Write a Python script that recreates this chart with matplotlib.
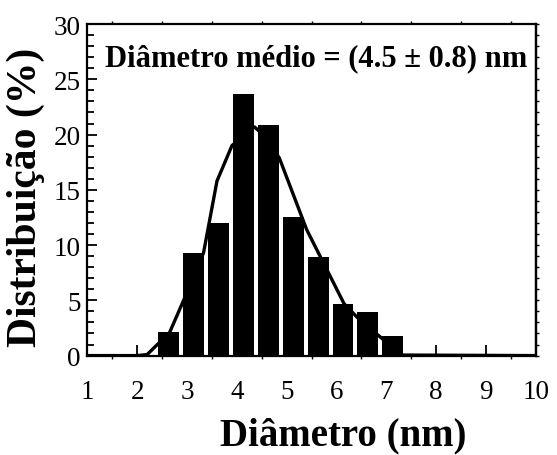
import matplotlib
matplotlib.use("Agg")
import matplotlib.pyplot as plt
from matplotlib.ticker import MultipleLocator

# histogram (bin centres in nm, percentage)
bin_centres = [2.63, 3.13, 3.63, 4.13, 4.63, 5.13, 5.63, 6.13, 6.63, 7.13]
percent = [2.1, 9.3, 12.0, 23.7, 20.9, 12.5, 8.9, 4.7, 3.9, 1.8]

# fitted curve
fit_x = [1.0, 2.0, 2.2, 2.65, 2.93, 3.33, 3.6, 3.9, 4.35, 4.45, 4.85, 5.4, 6.15, 6.45, 6.9, 7.3, 10.0]
fit_y = [0.0, 0.0, 0.1, 2.1, 5.0, 9.3, 15.8, 19.0, 20.7, 20.3, 17.9, 11.4, 4.7, 3.3, 1.6, 0.05, 0.0]

xticks = [1, 2, 3, 4, 5, 6, 7, 8, 9, 10]
yticks = [0, 5, 10, 15, 20, 25, 30]

serif = "Liberation Serif"

fig = plt.figure(figsize=(5.57, 4.56), dpi=100)
ax = fig.add_axes([0.157, 0.218, 0.805, 0.727])

ax.bar(bin_centres, percent, width=0.42, color="black", edgecolor="none", zorder=3)
ax.plot(fit_x, fit_y, color="black", linewidth=2.4, zorder=2)

ax.set_xlim(1, 10)
ax.set_ylim(0, 30)
ax.set_xticks(xticks)
ax.set_yticks(yticks)
ax.xaxis.set_minor_locator(MultipleLocator(0.5))
ax.yaxis.set_minor_locator(MultipleLocator(1))

for s in ax.spines.values():
    s.set_linewidth(1.6)

ax.tick_params(axis="x", which="major", direction="in", length=8, width=1.3,
               top=False, pad=17)
ax.tick_params(axis="x", which="minor", direction="out", length=2, width=1.0,
               top=True)
ax.tick_params(axis="y", which="major", direction="in", length=7, width=1.3,
               right=False, pad=5)
ax.tick_params(axis="y", which="minor", direction="in", length=5, width=1.3,
               right=False)

# small outward ticks on the right spine
ax_r = ax.secondary_yaxis("right")
ax_r.yaxis.set_major_locator(MultipleLocator(1))
ax_r.tick_params(direction="out", length=2, width=1.0, labelright=False)
ax_r.spines["right"].set_linewidth(1.6)

for lab in ax.get_xticklabels() + ax.get_yticklabels():
    lab.set_fontfamily(serif)
    lab.set_fontsize(19.5)

ax.set_xlabel("Diâmetro (nm)", fontfamily=serif, fontweight="bold", fontsize=28)
ax.xaxis.set_label_coords(0.57, -0.185)
ax.set_ylabel("Distribuição (%)", fontfamily=serif, fontweight="bold", fontsize=30)
ax.yaxis.set_label_coords(-0.095, 0.48)

ax.text(0.51, 0.9, "Diâmetro médio = (4.5 ± 0.8) nm", transform=ax.transAxes,
        ha="center", va="center", fontfamily=serif, fontweight="bold",
        fontsize=22)

fig.savefig("out.png", dpi=100)
